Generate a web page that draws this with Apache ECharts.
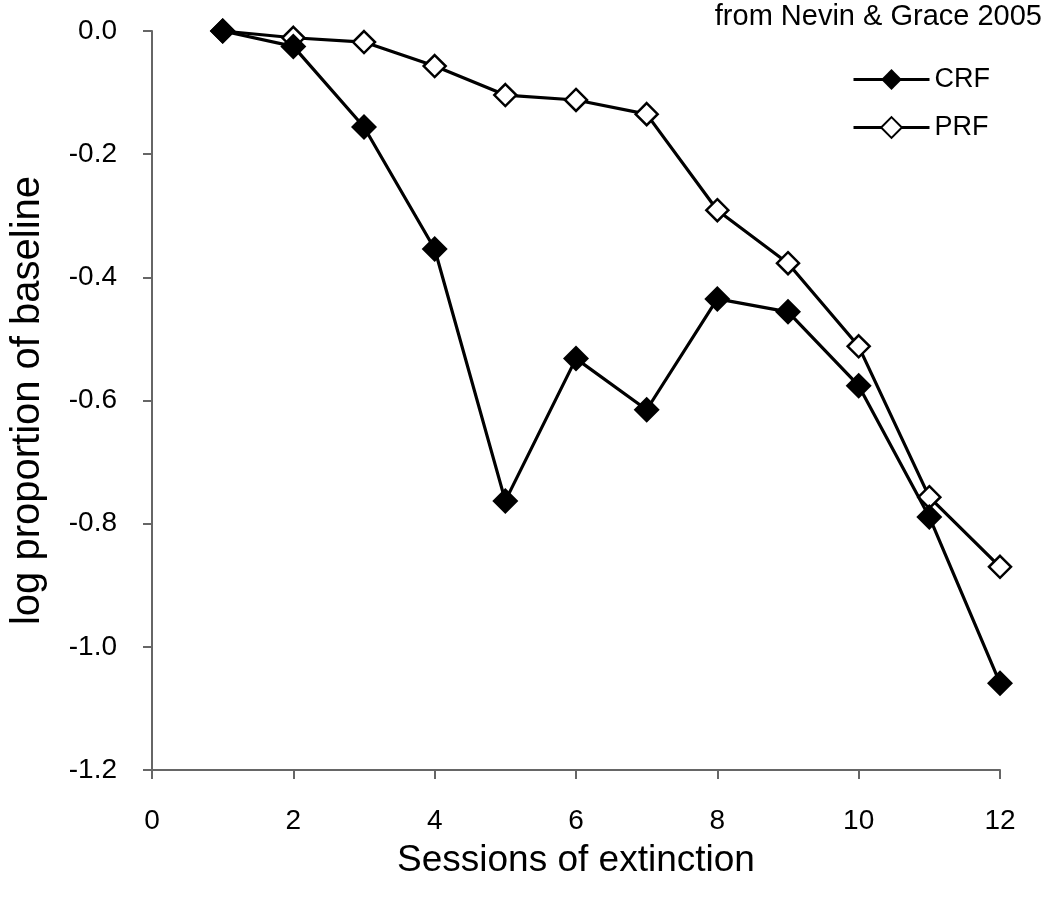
<!DOCTYPE html>
<html><head><meta charset="utf-8">
<script src="https://cdn.jsdelivr.net/npm/echarts@6/dist/echarts.min.js"></script>
<style>html,body{margin:0;padding:0;background:#fff}#c{width:1050px;height:905px}</style>
</head><body><div id="c"></div>
<script>
const sessions = [1,2,3,4,5,6,7,8,9,10,11,12];
const crf = [0.0,-0.025,-0.156,-0.354,-0.763,-0.532,-0.615,-0.435,-0.456,-0.576,-0.789,-1.059];
const prf = [0.0,-0.011,-0.018,-0.057,-0.104,-0.112,-0.135,-0.291,-0.377,-0.512,-0.757,-0.870];
const chart = echarts.init(document.getElementById('c'));
const font = 'Liberation Sans, Arial, sans-serif';
const axisColor = '#666';
chart.setOption({
  animation:false,
  title:{text:'from Nevin & Grace 2005', right:8, top:2, padding:0, textStyle:{fontFamily:font,fontSize:29,fontWeight:'normal',color:'#000'}},
  legend:{orient:'vertical', left:852, top:66, padding:0, itemWidth:76, itemHeight:26, itemGap:21,
    lineStyle:{width:3},
    textStyle:{fontFamily:font,fontSize:27,color:'#000'},
    data:['CRF','PRF']},
  grid:{left:149,right:50,top:31,bottom:135},
  xAxis:{type:'value',min:0,max:12,interval:2,
    name:'Sessions of extinction',nameLocation:'middle',nameGap:72,
    nameTextStyle:{fontFamily:font,fontSize:37,color:'#000'},
    axisLine:{onZero:false,lineStyle:{color:axisColor,width:2}},
    axisTick:{show:true,length:9,lineStyle:{color:axisColor,width:2}},
    axisLabel:{fontFamily:font,fontSize:28,color:'#000',margin:37},
    splitLine:{show:false}},
  yAxis:{type:'value',min:-1.2,max:0,interval:0.2,
    name:'log proportion of baseline',nameLocation:'middle',nameGap:104,
    nameTextStyle:{fontFamily:font,fontSize:40,color:'#000'},
    axisLine:{show:true,onZero:false,lineStyle:{color:axisColor,width:2}},
    axisTick:{show:true,length:9,lineStyle:{color:axisColor,width:2}},
    axisLabel:{fontFamily:font,fontSize:28,color:'#000',margin:35,formatter:v=>v.toFixed(1)},
    splitLine:{show:false}},
  series:[
    {name:'CRF',type:'line',z:3,data:sessions.map((s,i)=>[s,crf[i]]),
      symbol:'diamond',symbolSize:26,lineStyle:{color:'#000',width:3.2},
      itemStyle:{color:'#000',borderColor:'#000',borderWidth:0}},
    {name:'PRF',type:'line',z:2,data:sessions.map((s,i)=>[s,prf[i]]),
      symbol:'diamond',symbolSize:22,lineStyle:{color:'#000',width:3.2},
      itemStyle:{color:'#fff',borderColor:'#000',borderWidth:2.5}}
  ]
});
</script></body></html>
